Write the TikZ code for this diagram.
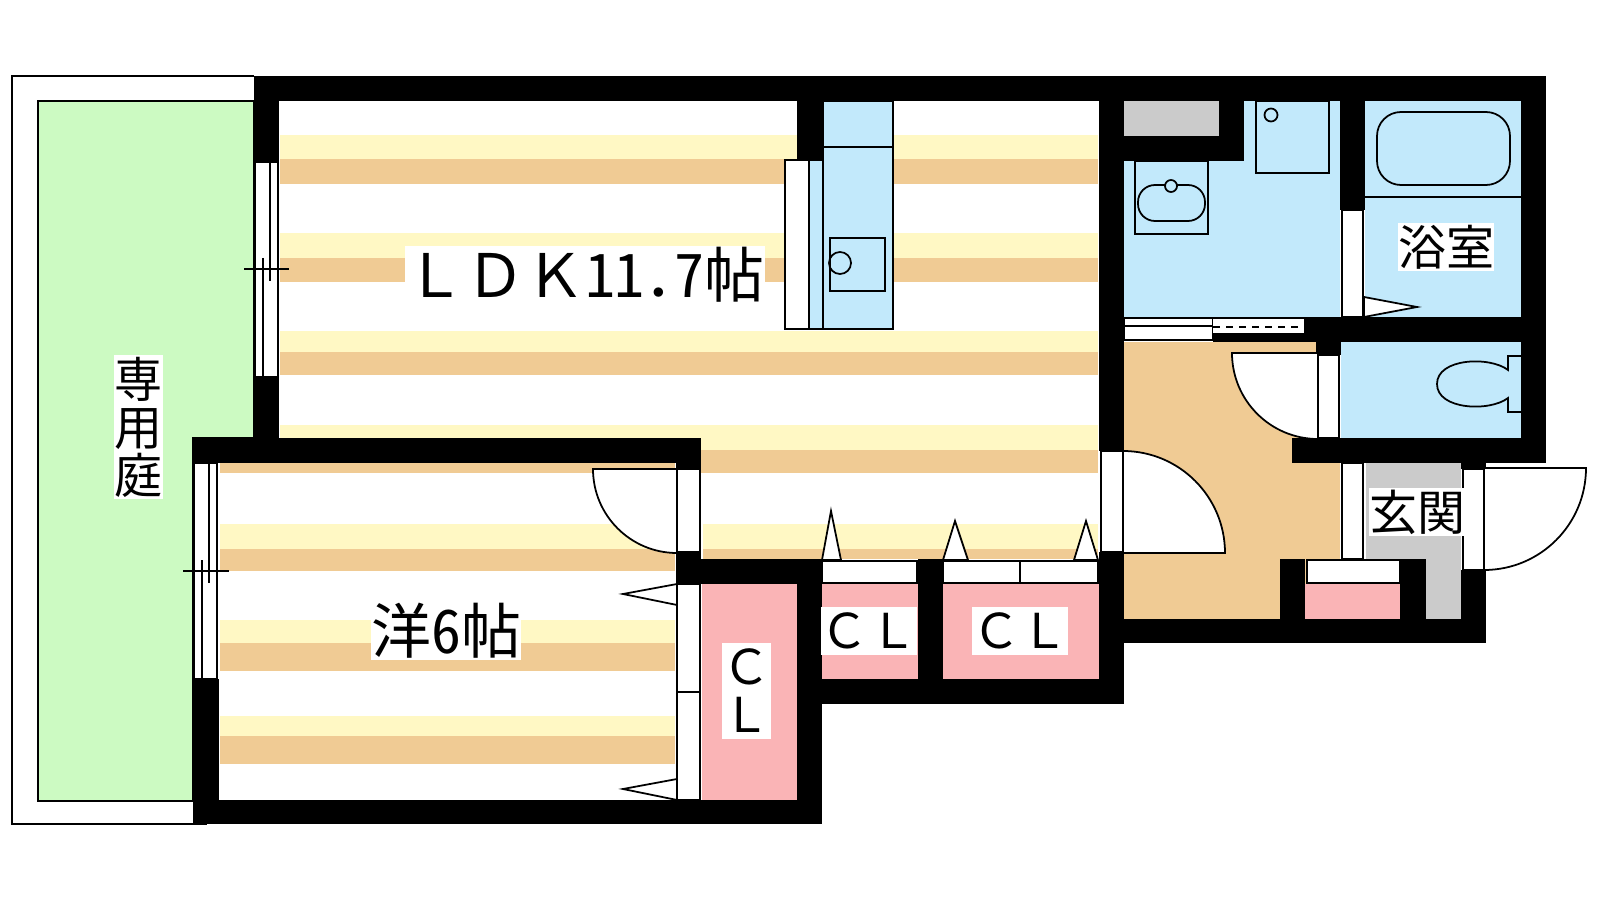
\documentclass[tikz,border=0pt]{standalone}
\usepackage{fontspec}
\newfontfamily\jpfont{Noto Sans CJK JP}
\newfontfamily\digitfont[RawFeature=+hwid]{Noto Sans CJK JP}

\definecolor{lawngreen}{HTML}{CCFAC2}
\definecolor{stripeyellow}{HTML}{FFF8C4}
\definecolor{stripetan}{HTML}{F0CB94}
\definecolor{wetblue}{HTML}{C2E9FB}
\definecolor{closetpink}{HTML}{FAB4B6}
\definecolor{entrygrey}{HTML}{CBCBCB}

\tikzset{
  wallpart/.style={fill=black},
  fitting/.style={draw=black, line width=.5pt},
  doorpart/.style={fitting, fill=white},
  biglabel/.style={fill=white, inner sep=0pt, text=black, font=\jpfont\fontsize{17.07pt}{17.07pt}\selectfont},
  roomlabel/.style={fill=white, inner sep=0pt, text=black, align=center, font=\jpfont\fontsize{13.66pt}{13.66pt}\selectfont},
}

\begin{document}
\begin{tikzpicture}[x=0.1mm, y=-0.1mm]
            \useasboundingbox[fill=white] (0,0) rectangle (1600,900);
            % garden
            \draw[fitting] (254,76) -- (12,76) -- (12,824) -- (207,824);
            \draw[fitting, fill=lawngreen] (38,101) -- (254,101) -- (254,438) -- (193,438) -- (193,801) -- (38,801) -- cycle;
            % floors
            \fill[wetblue] (1124,101) rectangle (1340,317);
            \fill[wetblue] (1365,101) rectangle (1521,317);
            \fill[wetblue] (1341,342) rectangle (1521,438);
            \fill[stripetan] (1124,342) rectangle (1340,619);
            \fill[entrygrey] (1366,463) rectangle (1461,559);
            \fill[entrygrey] (1426,559) rectangle (1461,619);
            \fill[entrygrey] (1124,101) rectangle (1219,136);
            \fill[closetpink] (702,584) rectangle (797,800);
            \fill[closetpink] (822,584) rectangle (918,679);
            \fill[closetpink] (943,584) rectangle (1099,679);
            \fill[closetpink] (1305,584) rectangle (1400,619);
            % stripes
            \foreach \xa/\xb/\ya/\yb/\yc in {280/1098/135/159/184, 280/1098/233/258/282, 280/1098/331/352/375,
                280/1098/425/450/473, 703/1098/524/549/559, 220/675/524/549/571, 220/675/620/643/671, 220/675/716/736/764} {
                \fill[stripeyellow] (\xa,\ya) rectangle (\xb,\yb);
                \fill[stripetan] (\xa,\yb) rectangle (\xb,\yc);
            }
            \fill[white] (205,463) rectangle (676,524);
            \fill[stripetan] (220,463) rectangle (675,473);
            % walls
            \foreach \xa/\ya/\xb/\yb in {254/76/1546/101, 254/101/279/162, 254/377/279/438, 193/438/701/463, 676/463/701/469,
                193/679/219/824, 193/800/822/824, 676/552/701/584, 701/559/822/584, 797/584/822/824, 797/101/822/161,
                822/679/1124/704, 918/559/943/704, 1099/552/1124/704, 1099/619/1486/643, 1099/76/1124/451,
                1124/136/1244/161, 1219/101/1244/161, 1340/101/1365/210, 1304/317/1546/342, 1316/342/1341/355,
                1213/333/1304/342, 1521/76/1546/463, 1292/438/1546/463, 1280/559/1305/619, 1400/559/1426/619,
                1461/570/1486/643, 1461/463/1486/469} {
                \fill[wallpart] (\xa,\ya) rectangle (\xb,\yb);
            }
            % windows
            \draw[doorpart] (255,162) rectangle (278,377);
            \draw[fitting] (270,162) -- (270,281);
            \draw[fitting] (263,258) -- (263,377);
            \draw[fitting] (244,269) -- (289,269);
            \draw[doorpart] (194,463) rectangle (217,679);
            \draw[fitting] (209,463) -- (209,583);
            \draw[fitting] (202,560) -- (202,679);
            \draw[fitting] (183,571) -- (229,571);
            % doors
            \draw[doorpart] (677,469) rectangle (700,552);
            \draw[doorpart] (677,469) -- (593,469) arc[start angle=180, end angle=90, radius=84] -- cycle;
            \draw[doorpart] (677,584) rectangle (700,692);
            \draw[doorpart] (677,692) rectangle (700,800);
            \draw[doorpart] (677,584) -- (623,594) -- (677,605) -- cycle;
            \draw[doorpart] (677,779) -- (623,789) -- (677,800) -- cycle;
            \draw[doorpart] (822,561) rectangle (917,583);
            \draw[doorpart] (943,561) rectangle (1020,583);
            \draw[doorpart] (1020,561) rectangle (1098,583);
            \draw[doorpart] (822,560) -- (831,511) -- (841,560) -- cycle;
            \draw[doorpart] (943,560) -- (955,521) -- (968,560) -- cycle;
            \draw[doorpart] (1074,560) -- (1086,521) -- (1098,560) -- cycle;
            \draw[doorpart] (1101,451) rectangle (1123,552);
            \draw[doorpart] (1123,553) -- (1123,451) arc[start angle=-90, end angle=0, radius=102] -- cycle;
            \draw[doorpart] (1318,355) rectangle (1339,438);
            \draw[doorpart] (1318,353) -- (1232,353) arc[start angle=180, end angle=90, radius=86] -- cycle;
            \draw[doorpart] (1342,210) rectangle (1363,317);
            \draw[doorpart] (1364,297) -- (1417,307) -- (1364,317) -- cycle;
            \draw[doorpart] (1124,318) rectangle (1213,340);
            \draw[fitting] (1124,326) -- (1213,326);
            \fill[white] (1213,318) rectangle (1304,333);
            \draw[fitting] (1213,318) -- (1304,318);
            \draw[fitting, dash pattern=on 2pt off 1.7pt] (1213,327) -- (1304,327);
            \draw[doorpart] (1342,463) rectangle (1363,559);
            \draw[doorpart] (1307,560) rectangle (1400,583);
            \draw[doorpart] (1463,469) rectangle (1484,570);
            \draw[doorpart] (1484,468) -- (1586,468) arc[start angle=0, end angle=90, radius=102] -- cycle;
            % kitchen
            \draw[doorpart] (785,160) rectangle (809,329);
            \draw[fitting, fill=wetblue] (809,160) rectangle (823,329);
            \draw[fitting, fill=wetblue] (823,101) rectangle (893,329);
            \draw[fitting] (823,147) -- (893,147);
            \draw[fitting] (830,238) rectangle (885,291);
            \draw[fitting] (840,263) circle[radius=11];
            % washroom and bath
            \draw[fitting] (1256,101) rectangle (1329,173);
            \draw[fitting] (1271,115) circle[radius=6.5];
            \draw[fitting] (1135,161) rectangle (1208,234);
            \draw[fitting, rounded corners=1.7mm] (1138,185) rectangle (1205,221);
            \draw[fitting, fill=wetblue] (1171,186) circle[radius=6];
            \draw[fitting, rounded corners=2.4mm] (1377,112) rectangle (1510,185);
            \draw[fitting] (1365,197) -- (1521,197);
            \draw[fitting] (1521,356) -- (1508,356) -- (1508,370) .. controls (1490,356) and (1437,358) .. (1437,384)
                .. controls (1437,410) and (1490,412) .. (1508,398) -- (1508,412) -- (1521,412);
            % labels
            \node[biglabel, minimum width=36mm, minimum height=5.8mm] (ldklabel) at (585,275) {ＬＤＫ{\digitfont 11}．\hspace{-.5em}{\digitfont 7}帖};
            \node[biglabel, minimum width=15mm, minimum height=5.8mm] (westernlabel) at (446,631) {洋{\digitfont 6}帖};
            \node[roomlabel, minimum width=4.9mm, minimum height=14.4mm] (gardenlabel) at (138.5,427) {専\\用\\庭};
            \node[roomlabel, minimum width=9.6mm, minimum height=4.8mm] (bathlabel) at (1446,247) {浴室};
            \node[roomlabel, minimum width=9.4mm, minimum height=4.8mm] (entrylabel) at (1417,512) {玄関};
            \node[roomlabel, minimum width=9.6mm, minimum height=4.8mm] (closetb) at (869,631) {ＣＬ};
            \node[roomlabel, minimum width=9.6mm, minimum height=4.8mm] (closetc) at (1020,631) {ＣＬ};
            \node[roomlabel, minimum width=4.9mm, minimum height=9.6mm] (closeta) at (746.5,691) {Ｃ\\Ｌ};
        \end{tikzpicture}
\end{document}
